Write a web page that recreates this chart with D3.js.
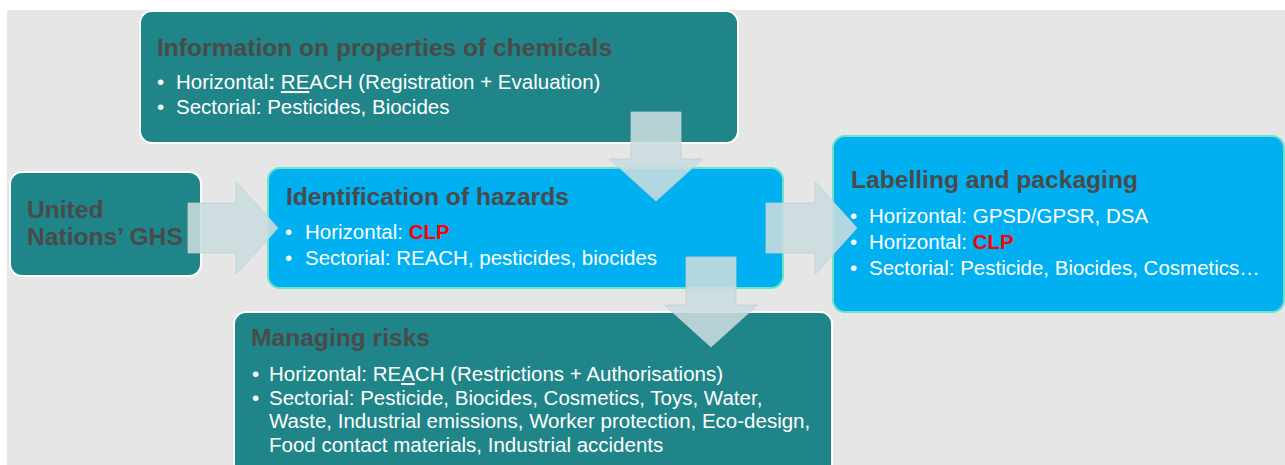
<!DOCTYPE html>
<html>
<head>
<meta charset="utf-8">
<script src="https://cdn.jsdelivr.net/npm/d3@7"></script>
<style>
  html, body { margin: 0; padding: 0; background: #ffffff; }
  svg { display: block; font-family: "Liberation Sans", Arial, sans-serif; }
</style>
</head>
<body>
<div id="chart"></div>
<script>
// box titles, in drawing order
const boxTitles = [
    'Information on properties of chemicals',
    ['United', 'Nations’ GHS'],
    'Identification of hazards',
    'Labelling and packaging',
    'Managing risks'
];

// bullets: each bullet is a list of lines, <b> bold, <u> underline, <r> red bold
const infoBullets = [
    ['Horizontal<b>:</b> <u>RE</u>ACH (Registration + Evaluation)'],
    ['Sectorial: Pesticides, Biocides']
];
const ghsBullets = [];
const hazardBullets = [
    ['Horizontal: <r>CLP</r>'],
    ['Sectorial: REACH, pesticides, biocides']
];
const labelBullets = [
    ['Horizontal: GPSD/GPSR, DSA'],
    ['Horizontal: <r>CLP</r>'],
    ['Sectorial: Pesticide, Biocides, Cosmetics…']
];
const riskBullets = [
    ['Horizontal: RE<u>A</u>CH (Restrictions + Authorisations)'],
    ['Sectorial: Pesticide, Biocides, Cosmetics, Toys, Water,',
     'Waste, Industrial emissions, Worker protection, Eco-design,',
     'Food contact materials, Industrial accidents']
];

// flows between boxes (index into boxTitles)
const flows = [[0, 2], [1, 2], [2, 3], [2, 4]];

const width = 1285;
const height = 465;
const color = {
    teal: '#1f8589',
    blue: '#00b0f0',
    blueEdge: '#6ae3c6',
    title: '#4a4a4a',
    red: '#ff0000',
    arrow: '#cbdcde'
};

const layout = [
    {x: 140, y: 11, w: 598, h: 132, fill: color.teal, edge: '#ffffff', tx: 157, ty: 56, bx: 157, lx: 176, ly: 89, dy: 25},
    {x: 10, y: 172, w: 191, h: 104, fill: color.teal, edge: '#ffffff', tx: 27, ty: 218, tdy: 27},
    {x: 268, y: 168, w: 515, h: 120, fill: color.blue, edge: color.blueEdge, tx: 286, ty: 205, bx: 285, lx: 305, ly: 239, dy: 26},
    {x: 833, y: 136, w: 451, h: 176, fill: color.blue, edge: color.blueEdge, tx: 851, ty: 188, bx: 850, lx: 869, ly: 223, dy: 26},
    {x: 234, y: 312, w: 598, h: 175, fill: color.teal, edge: '#ffffff', tx: 251, ty: 346, bx: 252, lx: 269, ly: 381, dy: 23.5}
];
const bullets = [infoBullets, ghsBullets, hazardBullets, labelBullets, riskBullets];

// arrow geometry per flow: tail centre and tip
const arrowGeom = [
    {x0: 656, y0: 112, x1: 656, y1: 201},
    {x0: 188, y0: 228, x1: 278, y1: 228},
    {x0: 766, y0: 228, x1: 857, y1: 228},
    {x0: 711, y0: 257, x1: 711, y1: 347}
];
const shaftHalf = 25;
const headHalf = 46.5;
const headLen = 42;

const svg = d3.select('#chart').append('svg')
    .attr('width', width)
    .attr('height', height);

svg.append('rect')
    .attr('x', 7).attr('y', 10)
    .attr('width', width - 7).attr('height', height - 10)
    .style('fill', '#e6e6e6');

const boxGroup = svg.append('g');

function addRich(textSel, str) {
    const parts = str.split(/(<[bur]>.*?<\/[bur]>)/).filter(s => s.length);
    parts.forEach(p => {
        const m = p.match(/^<([bur])>(.*?)<\/[bur]>$/);
        const t = textSel.append('tspan').text(m ? m[2] : p);
        if (m && m[1] === 'b') t.style('font-weight', 'bold');
        if (m && m[1] === 'u') t.style('text-decoration', 'underline');
        if (m && m[1] === 'r') t.style('font-weight', 'bold').style('fill', color.red);
    });
}

layout.forEach((b, i) => {
    const g = boxGroup.append('g');
    g.append('rect')
        .attr('x', b.x).attr('y', b.y)
        .attr('width', b.w).attr('height', b.h)
        .attr('rx', 12).attr('ry', 12)
        .style('fill', b.fill)
        .style('stroke', b.edge)
        .style('stroke-width', 2);

    const title = [].concat(boxTitles[i]);
    title.forEach((line, k) => {
        g.append('text')
            .attr('x', b.tx)
            .attr('y', b.ty + k * (b.tdy || 0))
            .style('font-size', '24.6px')
            .style('font-weight', 'bold')
            .style('fill', color.title)
            .text(line);
    });

    let row = 0;
    bullets[i].forEach(lines => {
        lines.forEach((line, k) => {
            const y = b.ly + row * b.dy;
            if (k === 0) {
                g.append('text')
                    .attr('x', b.bx).attr('y', y)
                    .style('font-size', '20.5px')
                    .style('fill', '#ffffff')
                    .text('•');
            }
            const t = g.append('text')
                .attr('x', b.lx).attr('y', y)
                .style('font-size', '20.5px')
                .style('fill', '#ffffff');
            addRich(t, line);
            row++;
        });
    });
});

// arrows on top of the boxes
const arrowGroup = svg.append('g');
flows.forEach((f, i) => {
    const a = arrowGeom[i];
    const len = Math.hypot(a.x1 - a.x0, a.y1 - a.y0);
    const ang = Math.atan2(a.y1 - a.y0, a.x1 - a.x0) * 180 / Math.PI;
    const p = d3.path();
    p.moveTo(0, -shaftHalf);
    p.lineTo(len - headLen, -shaftHalf);
    p.lineTo(len - headLen, -headHalf);
    p.lineTo(len, 0);
    p.lineTo(len - headLen, headHalf);
    p.lineTo(len - headLen, shaftHalf);
    p.lineTo(0, shaftHalf);
    p.closePath();
    arrowGroup.append('path')
        .attr('d', p.toString())
        .attr('transform', 'translate(' + a.x0 + ',' + a.y0 + ') rotate(' + ang + ')')
        .style('fill', color.arrow)
        .style('fill-opacity', 0.88)
        .style('stroke', '#bcd0d3')
        .style('stroke-width', 0.8);
});
</script>
</body>
</html>
